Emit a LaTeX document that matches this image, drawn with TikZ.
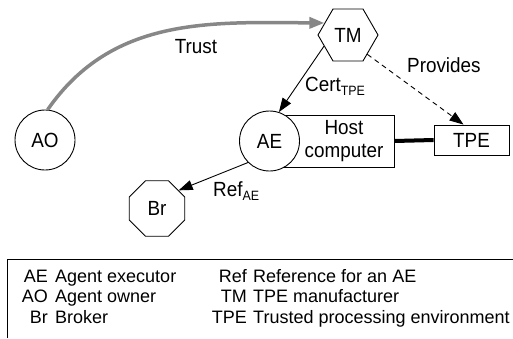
\documentclass[tikz,border=0pt]{standalone}
\usepackage{fontspec}
\setmainfont{Liberation Sans}
\newfontfamily\tallfont[FakeStretch=0.92]{Liberation Sans}
\usepackage{tikz}
\usetikzlibrary{arrows.meta,shapes,positioning,calc}
\newcommand{\lowtxt}[1]{{\tallfont\fontsize{13.5}{14}\selectfont\raisebox{-4.5pt}{#1}}}
\tikzset{
  txt/.style={font=\tallfont\fontsize{20.5}{23}\selectfont,inner sep=0pt},
  legtxt/.style={font=\fontsize{18}{20}\selectfont,inner sep=0pt},
  agent/.style={txt,circle,draw,fill=white,line width=0.9pt,minimum size=60pt},
  maker/.style={txt,regular polygon,regular polygon sides=6,draw,line width=0.9pt,minimum size=60pt},
  broker/.style={txt,regular polygon,regular polygon sides=8,draw,line width=0.9pt,minimum size=60pt},
  hostbox/.style args={#1,#2}{
  draw,
  line width=0.9pt,
  minimum width=#1pt,
  minimum height=#2pt,
  inner sep=0pt
  },
  link/.style={-{Triangle[length=14pt,width=10pt]},line width=0.9pt},
  trust/.style={-{Triangle[length=15pt,width=11pt]},draw=black!47,line width=3.5pt}
}
\begin{document}
\begin{tikzpicture}[x=1pt,y=-1pt]
  \useasboundingbox (0,0) rectangle (513,338);

  \node[hostbox={111,52}] (host) at (338.5,141) {};
  \node[hostbox={75,30},txt] (tpe) at (471.5,140) {TPE};
  \node[agent] (ae) at (269.5,141) {AE};
  \node[agent] (ao) at (45,140) {AO};
  \node[maker] (tm) at (348,35) {TM};
  \node[broker] (br) at (157,208.5) {Br};
  \node[txt,align=center] (hosttxt) at (344,141) {Host\\computer};

  \draw[line width=4pt] (host.east) -- (tpe.west);
  \draw[trust] (ao.85) .. controls (112,17) and (209,22) .. (tm.153);
  \path (tm.205) edge[link] (ae.72)
        (tm.315) edge[link,dash pattern=on 5pt off 4pt] ([xshift=-8pt]tpe.north)
        (ae.225) edge[link] (br.40);

  \node[txt,anchor=base] (trustlbl) at (196,53) {Trust};
  \node[txt,anchor=base west] (certlbl) at (305,91) {Cert\lowtxt{TPE}};
  \node[txt,anchor=base west] (provlbl) at (407,72) {Provides};
  \node[txt,anchor=base west] (reflbl) at (213,196) {Ref\lowtxt{AE}};

  \draw[line width=1pt] (7,338) |- (513,259);
  \node[legtxt,anchor=base east] (k1) at (48,282) {AE};
  \node[legtxt,base right=7pt of k1] (d1) {Agent executor};
  \node[legtxt,anchor=base east] (k2) at (48,302.5) {AO};
  \node[legtxt,base right=7pt of k2] (d2) {Agent owner};
  \node[legtxt,anchor=base east] (k3) at (48,323) {Br};
  \node[legtxt,base right=7pt of k3] (d3) {Broker};
  \node[legtxt,anchor=base east] (k4) at (247,282) {Ref};
  \node[legtxt,base right=6pt of k4] (d4) {Reference for an AE};
  \node[legtxt,anchor=base east] (k5) at (247,302.5) {TM};
  \node[legtxt,base right=6pt of k5] (d5) {TPE manufacturer};
  \node[legtxt,anchor=base east] (k6) at (247,323) {TPE};
  \node[legtxt,base right=6pt of k6] (d6) {Trusted processing environment};
\end{tikzpicture}
\end{document}
